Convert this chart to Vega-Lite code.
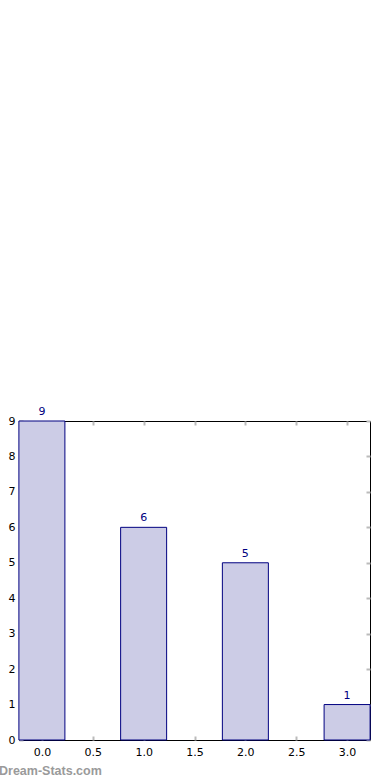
{
  "$schema": "https://vega.github.io/schema/vega-lite/v6.json",
  "usermeta": {"embedOptions": {"actions": false}},
  "autosize": "none",
  "width": 351,
  "height": 319,
  "padding": {"left": 19, "top": 421, "right": 20, "bottom": 40},
  "background": "white",
  "config": {
    "view": {"stroke": "black", "strokeWidth": 1},
    "font": "DejaVu Sans"
  },
  "title": {
    "text": "Dream-Stats.com",
    "orient": "bottom",
    "anchor": "start",
    "frame": "group",
    "fontSize": 12.5,
    "fontWeight": "bold",
    "color": "#9a9a9a",
    "font": "Liberation Sans",
    "dx": -20,
    "offset": 8
  },
  "data": {"values": [
    {"k": 0, "n": 9},
    {"k": 1, "n": 6},
    {"k": 2, "n": 5},
    {"k": 3, "n": 1}
  ]},
  "layer": [
    {
      "mark": {"type": "bar", "width": 46, "fill": "#ccccE6", "stroke": "#000080", "strokeWidth": 1},
      "encoding": {
        "x": {"field": "k", "type": "quantitative",
          "scale": {"domain": [-0.225, 3.225], "nice": false, "zero": false, "padding": 0},
          "axis": {"orient": "bottom", "values": [0, 0.5, 1, 1.5, 2, 2.5, 3], "format": ".1f", "title": null,
            "grid": false, "domain": false, "tickSize": -4, "tickColor": "#bbbbbb", "tickWidth": 2,
            "labelFontSize": 11, "labelColor": "black", "labelPadding": 10, "labelFont": "DejaVu Sans"}},
        "y": {"field": "n", "type": "quantitative",
          "scale": {"domain": [0, 9], "nice": false, "padding": 0},
          "axis": {"orient": "left", "values": [0,1,2,3,4,5,6,7,8,9], "title": null,
            "grid": false, "domain": false, "tickSize": -4, "tickColor": "#bbbbbb", "tickWidth": 2,
            "labelFontSize": 11, "labelColor": "black", "labelPadding": 8, "labelFont": "DejaVu Sans"}}
      }
    },
    {
      "mark": {"type": "text", "dy": -9, "fontSize": 11, "color": "#000080", "font": "DejaVu Sans"},
      "encoding": {
        "x": {"field": "k", "type": "quantitative",
          "axis": {"orient": "top", "values": [0, 0.5, 1, 1.5, 2, 2.5, 3], "labels": false, "title": null,
            "grid": false, "domain": false, "tickSize": -4, "tickColor": "#bbbbbb", "tickWidth": 2}},
        "y": {"field": "n", "type": "quantitative",
          "axis": {"orient": "right", "values": [0,1,2,3,4,5,6,7,8,9], "labels": false, "title": null,
            "grid": false, "domain": false, "tickSize": -4, "tickColor": "#bbbbbb", "tickWidth": 2}},
        "text": {"field": "n", "type": "quantitative"}
      }
    }
  ]
}
